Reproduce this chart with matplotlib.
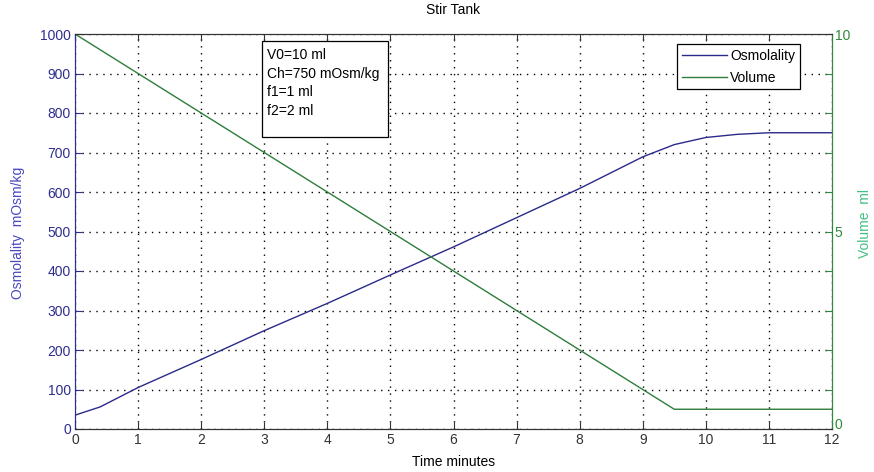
import matplotlib
matplotlib.use("Agg")
import matplotlib.pyplot as plt
from matplotlib.patches import Rectangle

# Data
time_osm = [0, 0.4, 1, 2, 3, 4, 5, 6, 7, 8, 9, 9.5, 10, 10.5, 11, 12]
osmolality = [35, 56, 105, 176, 249, 318, 390, 461, 535, 609, 689, 720, 738, 746, 750, 750]
time_vol = [0, 9.5, 12]
volume = [10, 0.5, 0.5]
xticks = list(range(0, 13))
left_ticks = list(range(0, 1001, 100))
right_ticks = list(range(0, 11))
right_labels = ['0', '', '', '', '', '5', '', '', '', '', '10']
info_lines = ["V0=10 ml", "Ch=750 mOsm/kg", "f1=1 ml", "f2=2 ml"]

plt.rcParams['font.family'] = ['Liberation Sans', 'DejaVu Sans']
plt.rcParams['font.size'] = 10

BLUE_LINE = '#2a2a8a'
BLUE_TXT = '#2e2e90'
BLUE_LBL = '#4848c0'
GREEN_LINE = '#2e7d3a'
GREEN_TXT = '#2e8a3a'
GREEN_LBL = '#40c080'

W, H = 874, 472
fig = plt.figure(figsize=(W / 100, H / 100), dpi=100)
L, R, T, B = 75, 832, 34, 429
ax1 = fig.add_axes([L / W, 1 - B / H, (R - L) / W, (B - T) / H])
ax2 = ax1.twinx()

l1, = ax1.plot(time_osm, osmolality, color=BLUE_LINE, lw=1.0, label='Osmolality')
l2, = ax2.plot(time_vol, volume, color=GREEN_LINE, lw=1.0, label='Volume')

ax1.set_xlim(0, 12)
ax1.set_ylim(0, 1000)
ax2.set_ylim(0, 10)
ax1.set_xticks(xticks)
ax1.set_yticks(left_ticks)
ax2.set_yticks(right_ticks)
ax2.set_yticklabels(right_labels)

ax1.grid(True, linestyle=(0, (1, 4)), color='black', lw=1.0)

ax1.tick_params(axis='x', direction='in', top=True, length=5, colors='#333333', labelsize=10, pad=3)
ax1.tick_params(axis='y', direction='in', length=5, color=BLUE_TXT, labelcolor=BLUE_TXT, labelsize=10, pad=3)
ax2.tick_params(axis='y', direction='in', length=5, color=GREEN_TXT, labelcolor=GREEN_TXT, labelsize=10, pad=2)
ax2.get_yticklabels()[0].set_va('baseline')

for ax in (ax1, ax2):
    ax.spines['top'].set_color('#333333')
    ax.spines['bottom'].set_color('#333333')
ax1.spines['left'].set_color(BLUE_TXT)
ax2.spines['left'].set_color(BLUE_TXT)
ax2.spines['right'].set_color(GREEN_TXT)
ax1.spines['right'].set_color(GREEN_TXT)

ax1.set_xlabel('Time minutes', fontsize=10)
ax1.xaxis.set_label_coords(0.5, -(462 - B) / (B - T))
ax1.xaxis.label.set_va('center')
ax1.set_ylabel('Osmolality  mOsm/kg', color=BLUE_LBL, fontsize=10)
ax1.yaxis.set_label_coords((18 - L) / (R - L), 0.496)
ax1.yaxis.label.set_va('center')
ax2.set_ylabel('Volume  ml', color=GREEN_LBL, fontsize=10)
ax2.yaxis.set_label_coords((865 - L) / (R - L), 0.52)
ax2.yaxis.label.set_va('center')

fig.text((L + R) / 2 / W, 1 - 10 / H, 'Stir Tank', ha='center', va='center', fontsize=10)

# info box
bx0 = (262 - L) / (R - L)
bx1 = (388 - L) / (R - L)
by1 = (B - 41) / (B - T)
by0 = (B - 137) / (B - T)
ax2.add_patch(Rectangle((bx0, by0), bx1 - bx0, by1 - by0, transform=ax2.transAxes,
                        facecolor='white', edgecolor='black', lw=0.9, zorder=5))
for i, line in enumerate(info_lines):
    yc = 55 + i * 18.6
    ax2.text((267 - L) / (R - L), (B - yc) / (B - T), line, transform=ax2.transAxes,
             ha='left', va='center', fontsize=10, zorder=6)

leg = ax2.legend([l1, l2], ['Osmolality', 'Volume'], loc='upper right',
                 bbox_to_anchor=((800 - L) / (R - L), (B - 44) / (B - T)),
                 fancybox=False, framealpha=1, edgecolor='black', fontsize=10,
                 borderaxespad=0, handlelength=3.3, handletextpad=0.2,
                 borderpad=0.35, labelspacing=0.55)
leg.get_frame().set_linewidth(0.9)

fig.savefig('out.png', dpi=100)
